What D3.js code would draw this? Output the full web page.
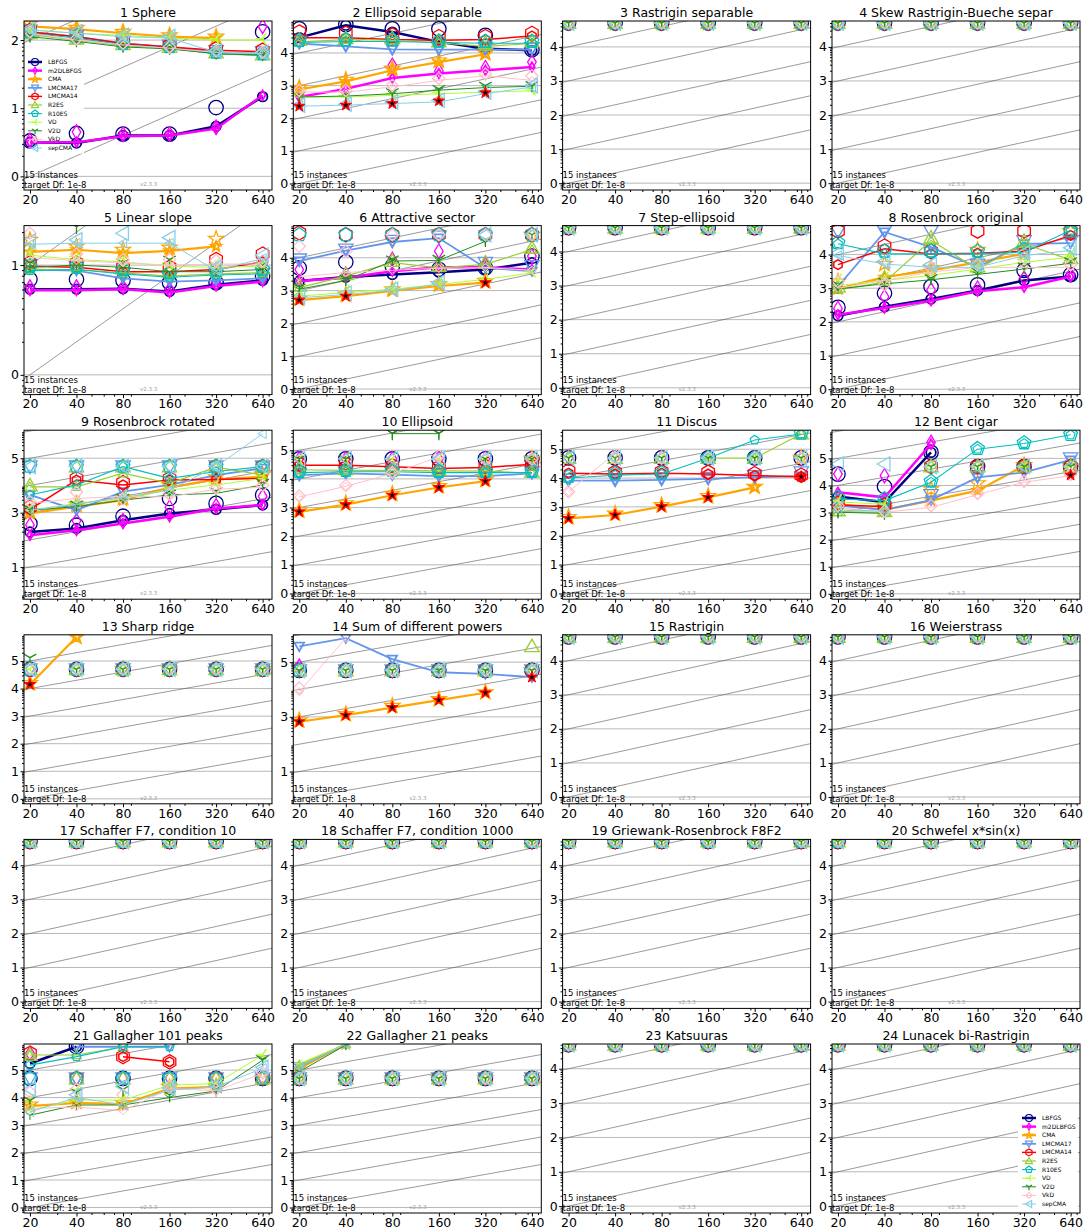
<!DOCTYPE html>
<html>
<head>
<meta charset="utf-8">
<script src="https://cdn.jsdelivr.net/npm/d3@7"></script>
<style>
body { margin: 0; background: #fff; }
text { font-family: "DejaVu Sans", sans-serif; }
</style>
</head>
<body>
<script>
// dimensions on the x axis
var dims = [20, 40, 80, 160, 320, 640];
var algs = ["LBFGS", "m2DLBFGS", "CMA", "LMCMA17", "LMCMA14", "R2ES", "R10ES", "VD", "V2D", "VkD", "sepCMA"];
var titles = ["1 Sphere", "2 Ellipsoid separable", "3 Rastrigin separable", "4 Skew Rastrigin-Bueche separ",
    "5 Linear slope", "6 Attractive sector", "7 Step-ellipsoid", "8 Rosenbrock original",
    "9 Rosenbrock rotated", "10 Ellipsoid", "11 Discus", "12 Bent cigar",
    "13 Sharp ridge", "14 Sum of different powers", "15 Rastrigin", "16 Weierstrass",
    "17 Schaffer F7, condition 10", "18 Schaffer F7, condition 1000", "19 Griewank-Rosenbrock F8F2", "20 Schwefel x*sin(x)",
    "21 Gallagher 101 peaks", "22 Gallagher 21 peaks", "23 Katsuuras", "24 Lunacek bi-Rastrigin"];

// all values are log10(ERT / dimension)
var N = null;
var F = 4.7;                       // budget marker (max evals / dim)
var B = [F, F, F, F, F, F];
var max_fail = [B, B, B, B, B, B, B, B, B, B, B];

var ert_f01 = [
    [0.5, 0.49, 0.6, 0.6, 0.735, 1.17],
    [0.5, 0.5, 0.59, 0.6, 0.7, 1.19],
    [2.2, 2.16, 2.1, 2.05, 2.03, N],
    [2.12, 2.05, 1.95, 1.9, 1.82, 1.8],
    [2.12, 2.05, 1.95, 1.9, 1.85, 1.83],
    [2.08, 2.0, 1.92, 1.88, 1.8, 1.77],
    [2.1, 2.03, 1.93, 1.88, 1.8, 1.78],
    [2.15, 2.1, 2.07, 2.03, 2.0, 2.0],
    [2.05, 1.98, 1.9, 1.87, 1.8, 1.78],
    [2.1, 2.0, 1.93, 1.88, 1.82, 1.8],
    [2.15, 2.1, 2.05, 2.03, 1.82, 1.8]];
var max_f01 = [
    [0.52, 0.63, 0.62, 0.62, 1.01, 2.12],
    [0.53, 0.65, 0.62, 0.62, 0.72, 2.2],
    [2.24, 2.18, 2.12, 2.07, 2.05, F],
    [2.14, 2.07, 1.97, 1.92, 1.84, 1.82],
    [2.14, 2.07, 1.97, 1.92, 1.87, 1.85],
    [2.1, 2.02, 1.94, 1.9, 1.82, 1.79],
    [2.12, 2.05, 1.95, 1.9, 1.82, 1.8],
    [2.17, 2.12, 2.09, 2.05, 2.02, 2.02],
    [2.07, 2.0, 1.92, 1.89, 1.82, 1.8],
    [2.12, 2.02, 1.95, 1.9, 1.84, 1.82],
    [2.17, 2.12, 2.07, 2.05, 1.84, 1.82]];
var sig_f01 = [];

var ert_f02 = [
    [4.47, 4.85, 4.64, 4.34, 4.13, 4.08],
    [2.65, 2.9, 3.23, 3.37, 3.47, 3.57],
    [2.88, 3.13, 3.47, 3.72, 3.96, N],
    [4.29, 4.2, 4.11, 4.1, 4.1, 4.1],
    [4.47, 4.47, 4.41, 4.39, 4.41, 4.52],
    [4.34, 4.41, 4.39, 4.31, 4.2, 4.29],
    [4.32, 4.35, 4.35, 4.32, 4.3, 4.3],
    [2.65, 2.65, 2.7, 2.75, 2.8, 2.84],
    [2.65, 2.68, 2.75, 2.86, 2.94, 2.98],
    [2.8, 2.8, 2.96, 3.16, 3.3, 3.16],
    [2.37, 2.4, 2.45, 2.5, 2.75, 2.96]];
var max_f02 = [
    [4.74, 4.87, 4.74, 4.74, 4.54, 4.1],
    [2.7, 2.95, 3.62, 3.45, 3.55, 3.72],
    [2.93, 3.18, 3.52, 3.77, 4.0, N],
    [4.35, 4.25, 4.15, 4.15, 4.15, 4.15],
    [4.64, 4.6, 4.55, 4.5, 4.5, 4.6],
    [4.4, 4.45, 4.45, 4.35, 4.3, 4.35],
    [4.38, 4.4, 4.4, 4.36, 4.35, 4.35],
    [2.7, 2.7, 2.75, 2.8, 2.85, 2.9],
    [2.7, 2.72, 2.8, 2.9, 3.0, 3.02],
    [2.85, 2.85, 3.0, 3.22, 3.35, 3.3],
    [2.4, 2.43, 2.5, 2.55, 2.8, 3.0]];
var sig_f02 = [2.37, 2.4, 2.45, 2.53, 2.78, N];

var ert_f05 = [
    [0.78, 0.78, 0.785, 0.76, 0.82, 0.86],
    [0.77, 0.77, 0.78, 0.75, 0.81, 0.85],
    [1.12, 1.14, 1.11, 1.13, 1.17, N],
    [0.96, 0.95, 0.88, 0.85, 0.86, 0.88],
    [0.99, 0.98, 0.94, 0.94, 0.96, 1.03],
    [0.96, 0.96, 0.93, 0.9, 0.92, 0.93],
    [0.95, 0.96, 0.92, 0.89, 0.91, 0.92],
    [1.09, 1.05, 1.03, 0.99, 0.98, 0.99],
    [0.98, 1.0, 0.98, 0.94, 0.94, 0.96],
    [1.07, 1.04, 1.02, 1.0, 1.01, 1.01],
    [1.19, 1.2, 1.2, 1.2, 0.95, 1.06]];
var max_f05 = [
    [0.87, 0.87, 0.86, 0.84, 0.84, 0.9],
    [0.8, 0.8, 0.8, 0.78, 0.84, 0.88],
    [1.23, 1.17, 1.14, 1.16, 1.24, F],
    [1.0, 0.98, 0.92, 0.88, 0.9, 0.92],
    [1.02, 1.02, 0.98, 0.98, 1.05, 1.1],
    [1.0, 1.0, 0.97, 0.94, 0.96, 0.97],
    [0.99, 0.99, 0.96, 0.93, 0.95, 0.96],
    [1.12, 1.08, 1.06, 1.02, 1.01, 1.02],
    [1.02, 1.35, 1.02, 1.05, 0.98, 1.0],
    [1.29, 1.1, 1.05, 1.05, 1.04, 1.04],
    [1.22, 1.23, 1.29, 1.25, 0.98, 1.09]];
var sig_f05 = [];

var ert_f06 = [
    [3.29, 3.41, 3.49, 3.56, 3.64, 3.85],
    [3.29, 3.39, 3.59, 3.71, 3.71, 3.64],
    [2.71, 2.83, 2.99, 3.14, 3.24, N],
    [3.9, 4.22, 4.48, 4.6, 3.69, 3.59],
    [],
    [3.09, 3.44, 3.85, 3.69, 3.8, 4.25],
    [],
    [2.83, 2.94, 3.04, 3.19, 3.34, 3.54],
    [3.04, 3.31, 3.9, 3.92, 4.5, N],
    [3.42, 3.55, 3.62, 3.68, 3.7, 3.62],
    [2.78, 2.88, 3.0, 3.2, N, N]];
var max_f06 = [
    [3.69, 3.87, 3.74, 3.65, 3.69, 4.05],
    [3.64, 3.5, 3.95, 4.2, 3.8, 4.05],
    [2.76, 2.88, 3.04, 3.19, 3.29, F],
    [3.95, 4.25, 4.52, 4.65, 3.85, 3.75],
    [4.76, F, F, F, F, F],
    [3.15, 3.5, 3.9, 3.75, 3.85, 4.3],
    B,
    [2.88, 2.99, 3.09, 3.24, 3.39, 3.59],
    [3.1, 3.36, 3.95, 3.97, 4.55, F],
    [4.35, 4.2, F, F, F, F],
    [2.82, 2.92, 3.04, 3.25, F, F]];
var sig_f06 = [2.71, 2.83, N, N, 3.24, N];

var ert_f08 = [
    [2.18, 2.45, 2.68, 2.93, 3.23, 3.35],
    [2.21, 2.41, 2.63, 2.91, 3.03, 3.35],
    [2.98, 3.33, 3.53, 3.77, 4.02, N],
    [3.05, 4.67, 4.22, 3.62, 4.32, 4.34],
    [3.7, 4.17, 4.02, 4.04, 4.1, 4.57],
    [2.95, 3.18, 4.42, 3.57, 4.32, 3.84],
    [4.32, 4.02, 4.02, 4.02, 4.07, 4.72],
    [3.08, 3.23, 3.38, 3.57, 3.77, 3.92],
    [2.98, 3.13, 3.25, 3.41, 3.57, 3.74],
    [3.0, 3.23, 3.48, 3.62, 3.62, 3.62],
    [3.97, 3.72, 3.62, 3.62, 3.97, 4.12]];
var max_f08 = [
    [2.43, 2.85, 3.05, 3.1, 3.53, 3.4],
    [2.4, 2.75, 2.95, 3.0, 3.3, 3.4],
    [3.2, 3.72, 3.6, 4.14, 4.1, F],
    [F, F, F, 3.7, 4.4, 4.4],
    [F, 4.25, 4.1, F, F, F],
    [3.05, 3.3, 4.5, 3.65, 4.4, 3.9],
    [4.35, 4.1, 4.1, 4.1, 4.15, F],
    [3.25, 3.3, 3.45, 3.65, 3.85, 4.0],
    [3.1, 3.2, 3.3, 3.5, 3.65, 3.8],
    [3.2, 3.1, 3.6, 3.7, 3.9, 3.7],
    [4.05, 3.8, 3.7, 3.7, 4.05, 4.2]];
var sig_f08 = [];

var ert_f09 = [
    [2.29, 2.42, 2.72, 2.97, 3.12, 3.28],
    [2.17, 2.35, 2.6, 2.85, 3.15, 3.28],
    [2.97, 3.22, 3.46, 3.93, 4.22, 4.32],
    [3.65, 3.09, 3.77, 4.02, 4.38, 4.63],
    [3.12, 4.2, 4.02, 4.2, 4.22, 4.26],
    [3.95, 3.95, 4.45, 4.08, 4.67, 4.38],
    [3.65, 4.02, 4.69, 4.26, 4.51, 4.69],
    [3.09, 3.34, 3.52, 3.83, 4.02, 4.26],
    [3.09, 3.22, 3.46, 3.65, 3.71, 4.02],
    [3.34, 3.52, 3.6, 3.58, 3.86, 3.93],
    [3.09, 3.31, 3.56, 3.83, 4.69, 5.9]];
var max_f09 = [
    [2.6, 2.54, 2.87, 3.52, 3.34, 3.65],
    [2.55, 2.7, 2.7, 3.2, 3.25, 3.6],
    [3.05, 3.3, 3.55, 4.0, 4.3, 4.4],
    B,
    [3.2, 4.25, 4.1, 4.25, F, F],
    [4.0, F, F, F, F, F],
    B,
    [3.2, 3.4, 3.6, 3.9, 4.1, 4.35],
    [3.15, 3.3, 3.55, 3.7, 3.8, 4.1],
    [3.4, 3.75, 3.5, 3.7, 3.9, 4.0],
    B];
var sig_f09 = [];

var ert_f10 = [
    [], [],
    [2.85, 3.1, 3.43, 3.7, 3.92, N],
    [4.13, 4.19, 4.15, 4.1, 4.1, 4.19],
    [4.48, 4.48, 4.42, 4.36, 4.4, 4.51],
    [4.32, 4.3, 4.3, 4.28, 4.27, 4.2],
    [4.22, 4.25, 4.25, 4.22, 4.22, 4.22],
    [],
    [N, N, 5.58, 5.58, N, N],
    [3.37, 3.74, 4.19, 4.77, N, N],
    []];
var max_f10 = [
    B, B,
    [2.9, 3.15, 3.48, 3.75, 3.97, F],
    [4.18, 4.24, 4.2, 4.15, 4.15, 4.24],
    [4.52, 4.52, 4.46, 4.4, 4.44, 4.55],
    [4.36, 4.34, 4.34, 4.32, 4.31, 4.25],
    [4.26, 4.29, 4.29, 4.26, 4.26, 4.26],
    B,
    [F, F, 5.6, 5.6, F, F],
    [3.4, 3.77, 4.22, 4.8, F, F],
    B];
var sig_f10 = [2.85, 3.1, 3.43, 3.7, 3.92, N];

var ert_f11 = [
    [], [],
    [2.6, 2.72, 3.01, 3.33, 3.68, N],
    [3.91, 3.91, 3.94, 3.97, 4.03, 4.07],
    [4.17, 4.14, 4.17, 4.14, 4.09, 4.05],
    [N, N, N, 4.69, 4.69, 5.53],
    [4.0, 4.1, 4.14, 4.69, 5.32, 5.53],
    [], [],
    [3.53, 4.86, N, N, N, N],
    []];
var max_f11 = [
    B, B,
    [2.65, 2.77, 3.06, 3.38, 3.7, F],
    [3.95, 3.95, 3.98, 4.01, 4.07, 4.2],
    [4.25, 4.2, 4.22, 4.2, 4.15, 4.1],
    [F, F, F, F, F, 5.55],
    [4.05, 4.15, 4.18, F, F, 5.55],
    B, B,
    [3.53, F, F, F, F, F],
    B];
var sig_f11 = [2.6, 2.72, 3.01, 3.33, N, 4.05];

var ert_f12 = [
    [3.59, 3.38, 5.22, N, N, N],
    [3.75, 3.56, 5.53, N, N, N],
    [3.32, 3.1, 3.44, 3.81, 4.73, N],
    [3.26, 3.1, 3.46, 4.3, 4.48, 4.94],
    [3.28, 3.22, N, N, N, N],
    [3.03, 3.01, N, N, N, N],
    [3.5, 3.44, 4.12, 5.34, 5.55, 5.87],
    [3.4, 3.3, N, N, N, N],
    [3.01, 2.97, N, N, N, N],
    [3.19, 3.01, 3.19, 3.66, 4.12, 4.36],
    [3.1, 3.05, N, N, N, N]];
var max_f12 = [
    [4.42, 3.96, 5.22, F, F, F],
    [4.42, 4.36, 5.59, F, F, F],
    [3.4, 3.15, 3.87, 4.08, 4.75, F],
    [3.3, 3.15, 3.65, 4.35, 4.55, 5.0],
    [3.35, 3.28, F, F, F, F],
    [3.08, 3.05, F, F, F, F],
    [3.55, 3.5, 4.15, 5.36, 5.57, 5.88],
    [3.45, 3.35, F, F, F, F],
    [3.05, 3.0, F, F, F, F],
    [3.25, 3.05, 3.25, 3.7, 4.15, 4.4],
    [4.79, 4.79, F, F, F, F]];
var sig_f12 = [N, N, N, N, N, 4.38];

var ert_f13 = [[], [], [4.15, 5.87, N, N, N, N], [], [], [], [], [], [], [], []];
var max_f13 = [B, B, [4.2, 5.87, F, F, F, F], B, B, B, B, B, [5.12, F, F, F, F, F], B, B];
var sig_f13 = [4.15, N, N, N, N, N];

var ert_f14 = [
    [], [],
    [2.82, 3.06, 3.34, 3.61, 3.88, N],
    [5.58, 5.88, 5.11, 4.63, 4.57, 4.45],
    [], [], [], [], [],
    [3.92, 5.88, N, N, N, N],
    []];
var max_f14 = [
    B, [4.85, F, F, F, F, F],
    [2.87, 3.1, 3.4, 3.65, 3.9, F],
    B, B,
    [F, F, F, F, F, 5.58],
    B, B, B,
    [4.05, F, F, F, F, F],
    B];
var sig_f14 = [2.82, 3.06, 3.34, 3.61, 3.88, 4.45];

var ert_f21 = [
    [5.24, 5.85, N, N, N, N],
    [],
    [3.69, 3.81, 3.76, 4.33, 4.39, N],
    [N, 5.85, 5.85, 5.85, N, N],
    [N, N, 5.49, 5.3, N, N],
    [5.55, 5.55, 5.85, N, N, N],
    [5.18, 5.49, 5.85, 5.85, N, N],
    [3.54, 3.91, 3.91, 4.45, 4.51, 5.55],
    [3.36, 3.73, 3.73, 4.0, 4.24, 5.36],
    [3.6, 3.66, 3.52, 4.33, 4.25, 4.88],
    [3.48, 4.0, 3.73, 4.27, 4.39, 5.06]];
var max_f21 = [
    [F, 5.85, F, F, F, F],
    [5.61, F, F, F, F, F],
    [3.75, 3.85, 3.8, 4.38, 4.42, F],
    B,
    [5.61, F, 5.49, 5.3, F, F],
    [5.55, F, F, F, F, F],
    B,
    [3.9, 4.3, 4.0, 4.5, 4.55, 5.55],
    [3.9, 4.2, 4.3, 4.1, 4.3, 5.4],
    [4.2, 4.3, 4.1, 4.4, 4.3, 4.9],
    [4.3, 4.1, 4.4, 4.35, 4.45, 5.1]];
var sig_f21 = [];

var ert_f22 = [
    [], [],
    [5.06, 5.95, N, N, N, N],
    [5.12, 5.95, N, N, N, N],
    [],
    [5.18, 5.95, N, N, N, N],
    [],
    [5.24, 5.95, N, N, N, N],
    [4.94, 5.91, N, N, N, N],
    [],
    [5.12, 5.95, N, N, N, N]];
var max_f22 = max_fail;
var sig_f22 = [];

var panels = [
    {ert: ert_f01, max: max_f01, sig: sig_f01}, {ert: ert_f02, max: max_f02, sig: sig_f02},
    {ert: [], max: max_fail, sig: []}, {ert: [], max: max_fail, sig: []},
    {ert: ert_f05, max: max_f05, sig: sig_f05}, {ert: ert_f06, max: max_f06, sig: sig_f06},
    {ert: [], max: max_fail, sig: []}, {ert: ert_f08, max: max_f08, sig: sig_f08},
    {ert: ert_f09, max: max_f09, sig: sig_f09}, {ert: ert_f10, max: max_f10, sig: sig_f10},
    {ert: ert_f11, max: max_f11, sig: sig_f11}, {ert: ert_f12, max: max_f12, sig: sig_f12},
    {ert: ert_f13, max: max_f13, sig: sig_f13}, {ert: ert_f14, max: max_f14, sig: sig_f14},
    {ert: [], max: max_fail, sig: []}, {ert: [], max: max_fail, sig: []},
    {ert: [], max: max_fail, sig: []}, {ert: [], max: max_fail, sig: []},
    {ert: [], max: max_fail, sig: []}, {ert: [], max: max_fail, sig: []},
    {ert: ert_f21, max: max_f21, sig: sig_f21}, {ert: ert_f22, max: max_f22, sig: sig_f22},
    {ert: [], max: max_fail, sig: []}, {ert: [], max: max_fail, sig: []}];

// axis ranges and ticks per panel
var T4 = [0, 1, 2, 3, 4], T5 = [0, 1, 2, 3, 4, 5], TODD = [1, 3, 5];
var yDomains = [[-0.2, 2.28], [-0.2, 4.98], [-0.2, 4.76], [-0.2, 4.76],
    [-0.18, 1.36], [-0.17, 4.98], [-0.2, 4.76], [-0.16, 4.86],
    [-0.18, 6.03], [-0.2, 5.7], [-0.2, 5.66], [-0.2, 6.04],
    [-0.18, 5.95], [-0.18, 6.0], [-0.2, 4.76], [-0.2, 4.76],
    [-0.2, 4.76], [-0.2, 4.76], [-0.2, 4.76], [-0.2, 4.76],
    [-0.2, 5.95], [-0.2, 5.95], [-0.2, 4.72], [-0.2, 4.72]];
var yTicks = [[0, 1, 2], T4, T4, T4, [0, 1], T4, T4, T4, TODD, T5, T5, T5,
    T5, TODD, T4, T4, T4, T4, T4, T4, T5, T5, T4, T4];
var minorX = [30, 50, 60, 70, 90, 200, 300, 400, 500, 600, 700];
// reference lines of linear scaling, from (0.2, 10^i) to (20000, 10^(i+5))
var diagStarts = [-2, -1, 0, 1, 2, 3, 4, 5, 6];
var diagX = [0.2, 20000];

// styles
var algColors = ["#000080", "#ff00ff", "#ffa500", "#6495ed", "#ff0000", "#9acd32", "#00bfbf", "#adff2f", "#228b22", "#ffc0cb", "#87ceeb"];
var algMarkers = ["o", "d", "*", "v", "h", "^", "p", "3", "1", "D", "<"];
var algWidths = [2.5, 2.5, 2.2, 1.8, 1.5, 1.2, 1.1, 1, 1, 1, 1];

function poly(n, r) {
    var pts = [];
    for (var i = 0; i < n; i++) {
        var a = i * 2 * Math.PI / n;
        pts.push((r * Math.sin(a)).toFixed(2) + "," + (-r * Math.cos(a)).toFixed(2));
    }
    return "M" + pts.join("L") + "Z";
}
function starPath(r) {
    var pts = [];
    for (var i = 0; i < 10; i++) {
        var a = i * Math.PI / 5, rr = i % 2 ? r * 0.4 : r;
        pts.push((rr * Math.sin(a)).toFixed(2) + "," + (-rr * Math.cos(a)).toFixed(2));
    }
    return "M" + pts.join("L") + "Z";
}
function markerPath(m, r) {
    var s = 0.87 * r, h = 0.5 * r;
    switch (m) {
        case "o": return "M" + r + ",0A" + r + "," + r + " 0 1,1 " + (-r) + ",0A" + r + "," + r + " 0 1,1 " + r + ",0Z";
        case "d": return "M0," + (-r) + "L" + (0.6 * r) + ",0L0," + r + "L" + (-0.6 * r) + ",0Z";
        case "*": return starPath(r * 1.1);
        case "v": return "M" + (-r) + "," + (-0.75 * r) + "L" + r + "," + (-0.75 * r) + "L0," + r + "Z";
        case "h": return poly(6, r);
        case "^": return "M0," + (-r) + "L" + r + "," + (0.75 * r) + "L" + (-r) + "," + (0.75 * r) + "Z";
        case "p": return poly(5, r);
        case "3": return "M0,0L" + (-r) + ",0M0,0L" + h + "," + (-s) + "M0,0L" + h + "," + s;
        case "1": return "M0,0L0," + r + "M0,0L" + (-s) + "," + (-h) + "M0,0L" + s + "," + (-h);
        case "D": return poly(4, r * 0.85);
        case "<": return "M" + (-r) + ",0L" + (0.75 * r) + "," + (-r) + "L" + (0.75 * r) + "," + r + "Z";
    }
}

var pw = 248, ph = 169;
var colLeft = [24, 293.3, 562.6, 832];
var rowTop = [21, 225.6, 430.2, 634.8, 839.4, 1044];
var legendStep = 8.6;

var svg = d3.select("body").append("svg")
    .attr("width", 1084)
    .attr("height", 1230)
    .style("background", "#fff");

var x = d3.scaleLog().domain([18.3, 736]).range([0, pw]);

// white box behind legend, drawn under the data
function legendBox(g, lx, ly) {
    g.append("rect")
        .attr("x", lx - 4).attr("y", ly - 6)
        .attr("width", 60).attr("height", legendStep * 11 + 3)
        .style("fill", "#fff");
}
function legendEntries(g, lx, ly) {
    algs.forEach(function(a, i) {
        var yy = ly + i * legendStep;
        g.append("line")
            .attr("x1", lx).attr("x2", lx + 14).attr("y1", yy).attr("y2", yy)
            .style("stroke", algColors[i]).style("stroke-width", algWidths[i]);
        g.append("path")
            .attr("transform", "translate(" + (lx + 7) + "," + yy + ")")
            .attr("d", markerPath(algMarkers[i], 3.5))
            .style("fill", "none").style("stroke", algColors[i]).style("stroke-width", 1.2);
        g.append("text")
            .attr("x", lx + 20).attr("y", yy + 2)
            .attr("font-size", "6px")
            .text(a);
    });
}
var legendAt = {0: [4, 41], 23: [190, 74]};

panels.forEach(function(p, k) {
    var g = svg.append("g")
        .attr("transform", "translate(" + colLeft[k % 4] + "," + rowTop[Math.floor(k / 4)] + ")");
    var dom = yDomains[k];
    var y = d3.scaleLinear().domain(dom).range([ph, 0]);

    g.append("clipPath").attr("id", "clip" + k)
        .append("rect").attr("width", pw).attr("height", ph);
    var inner = g.append("g").attr("clip-path", "url(#clip" + k + ")");

    // horizontal grid
    inner.selectAll(".grid")
        .data(yTicks[k])
        .enter()
        .append("line")
            .attr("x1", 0).attr("x2", pw)
            .attr("y1", function(d) { return y(d); })
            .attr("y2", function(d) { return y(d); })
            .style("stroke", "#b0b0b0")
            .style("stroke-width", 0.9);

    // scaling reference lines
    inner.selectAll(".diag")
        .data(diagStarts)
        .enter()
        .append("line")
            .attr("x1", x(diagX[0])).attr("x2", x(diagX[1]))
            .attr("y1", function(d) { return y(d); })
            .attr("y2", function(d) { return y(d + 5); })
            .style("stroke", "#555")
            .style("stroke-width", 0.6);

    if (legendAt[k]) legendBox(inner, legendAt[k][0], legendAt[k][1]);

    var line = d3.line()
        .defined(function(d) { return d[1] != null; })
        .x(function(d) { return x(d[0]); })
        .y(function(d) { return y(d[1]); });

    algs.forEach(function(a, i) {
        // max evals markers (large, no line)
        var mx = p.max[i] || [];
        var big = dims.map(function(d, j) { return [d, mx[j]]; })
            .filter(function(d) { return d[1] != null; });
        inner.selectAll(null)
            .data(big)
            .enter()
            .append("path")
                .attr("transform", function(d) { return "translate(" + x(d[0]) + "," + y(d[1]) + ")"; })
                .attr("d", markerPath(algMarkers[i], 7.2))
                .style("fill", "none")
                .style("stroke", algColors[i])
                .style("stroke-width", 1.3);

        // ERT line with markers
        var e = p.ert[i] || [];
        var pts = dims.map(function(d, j) { return [d, e[j] == null ? null : e[j]]; });
        if (!pts.some(function(d) { return d[1] != null; })) return;
        inner.append("path")
            .datum(pts)
            .attr("d", line)
            .style("fill", "none")
            .style("stroke", algColors[i])
            .style("stroke-width", algWidths[i]);
        inner.selectAll(null)
            .data(pts.filter(function(d) { return d[1] != null; }))
            .enter()
            .append("path")
                .attr("transform", function(d) { return "translate(" + x(d[0]) + "," + y(d[1]) + ")"; })
                .attr("d", markerPath(algMarkers[i], 4.8))
                .style("fill", "none")
                .style("stroke", algColors[i])
                .style("stroke-width", Math.min(algWidths[i], 1.8));
    });

    // significance stars
    var sig = dims.map(function(d, j) { return [d, p.sig[j]]; })
        .filter(function(d) { return d[1] != null; });
    inner.selectAll(".sig")
        .data(sig)
        .enter()
        .append("path")
            .attr("transform", function(d) { return "translate(" + x(d[0]) + "," + y(d[1]) + ")"; })
            .attr("d", starPath(6))
            .style("fill", "#ff0000")
            .style("stroke", "#ff0000")
            .style("stroke-width", 1);
    inner.selectAll(".sigc")
        .data(sig)
        .enter()
        .append("path")
            .attr("transform", function(d) { return "translate(" + x(d[0]) + "," + y(d[1]) + ")"; })
            .attr("d", starPath(3))
            .style("fill", "#000");

    // frame
    g.append("rect")
        .attr("width", pw).attr("height", ph)
        .style("fill", "none").style("stroke", "#000").style("stroke-width", 1);

    // axes
    var xa = g.append("g")
        .attr("transform", "translate(0," + ph + ")")
        .call(d3.axisBottom(x).tickValues(dims).tickFormat(d3.format("d")).tickSize(3.5).tickPadding(1.5).tickSizeOuter(0))
        .attr("font-size", 12.5).attr("font-family", "DejaVu Sans");
    xa.select(".domain").remove();
    var xm = g.append("g")
        .attr("transform", "translate(0," + ph + ")")
        .call(d3.axisBottom(x).tickValues(minorX).tickFormat("").tickSize(2).tickSizeOuter(0));
    xm.select(".domain").remove();

    var ya = g.append("g")
        .call(d3.axisLeft(y).tickValues(yTicks[k]).tickFormat(d3.format("d")).tickSize(3.5).tickPadding(1.5).tickSizeOuter(0))
        .attr("font-size", 12.5).attr("font-family", "DejaVu Sans");
    ya.select(".domain").remove();
    var minorY = [];
    for (var n = Math.floor(dom[0]); n < dom[1]; n++) {
        for (var m = 2; m < 10; m++) {
            var v = n + Math.log10(m);
            if (v > dom[0] && v < dom[1]) minorY.push(v);
        }
    }
    var ym = g.append("g")
        .call(d3.axisLeft(y).tickValues(minorY).tickFormat("").tickSize(2).tickSizeOuter(0));
    ym.select(".domain").remove();

    // titles and notes
    g.append("text")
        .attr("x", pw / 2).attr("y", -4)
        .attr("text-anchor", "middle")
        .attr("font-size", "12.5px")
        .text(titles[k]);
    g.append("text")
        .attr("x", 0).attr("y", ph - 12)
        .attr("font-size", "8.5px")
        .text("15 instances");
    g.append("text")
        .attr("x", 0).attr("y", ph - 2)
        .attr("font-size", "8.5px")
        .text("target Df: 1e-8");
    g.append("text")
        .attr("x", 116).attr("y", ph - 4)
        .attr("font-size", "5.5px")
        .style("fill", "#999")
        .text("v2.3.3");

    if (legendAt[k]) legendEntries(g, legendAt[k][0], legendAt[k][1]);
});
</script>
</body>
</html>
